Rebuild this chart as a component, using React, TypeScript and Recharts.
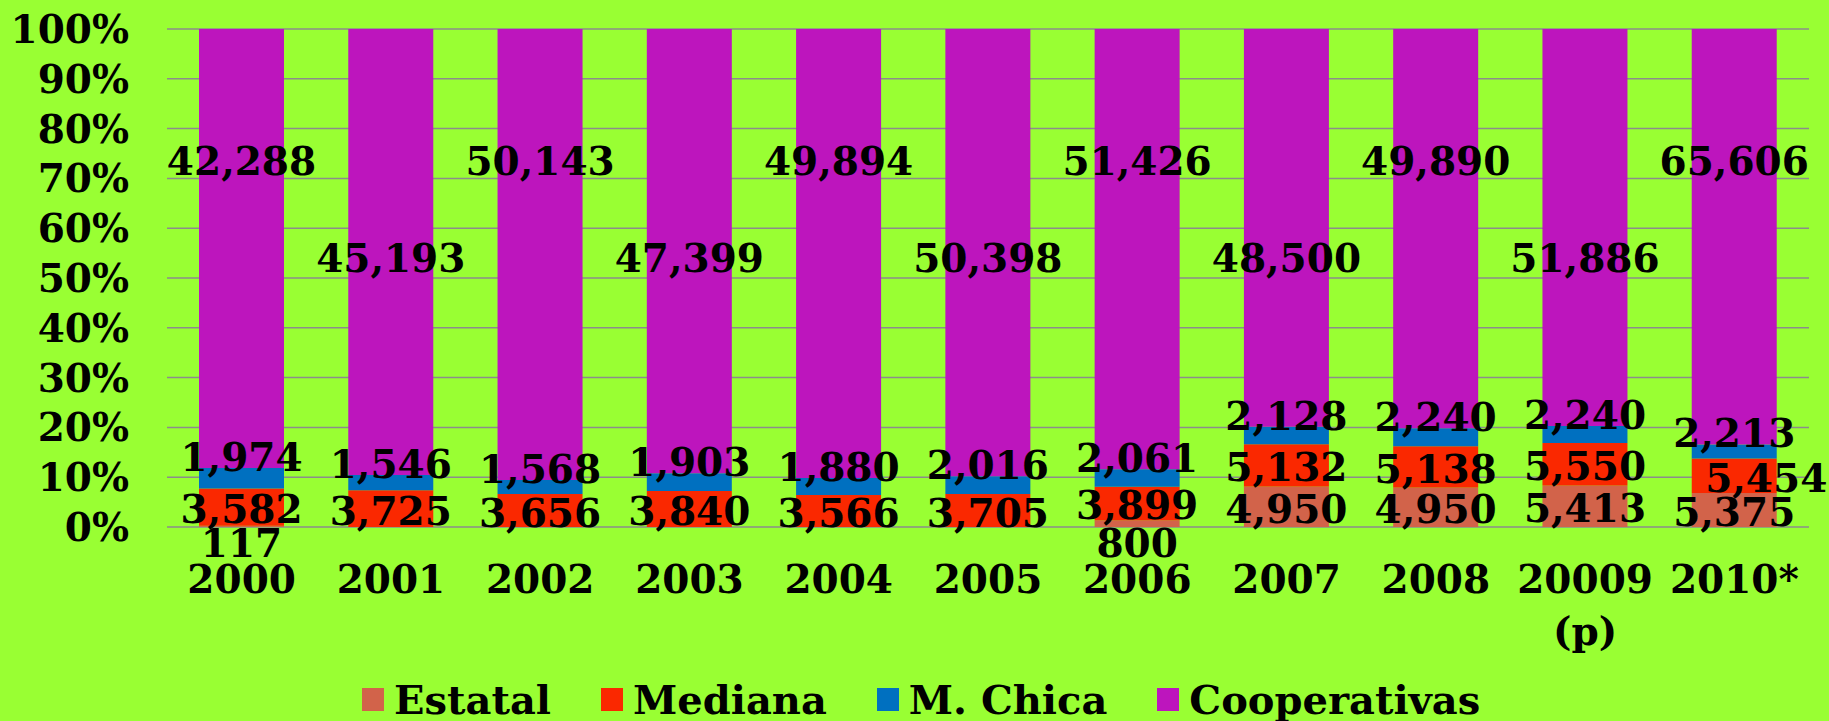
import React from 'react';
import { BarChart, Bar, XAxis, YAxis, CartesianGrid, Legend, LabelList } from 'recharts';

const YEARS = ['2000', '2001', '2002', '2003', '2004', '2005', '2006', '2007', '2008', '20009 (p)', '2010*'];
const ESTATAL = [117, 0, 0, 0, 0, 0, 800, 4950, 4950, 5413, 5375];
const MEDIANA = [3582, 3725, 3656, 3840, 3566, 3705, 3899, 5132, 5138, 5550, 5454];
const CHICA = [1974, 1546, 1568, 1903, 1880, 2016, 2061, 2128, 2240, 2240, 2213];
const COOP = [42288, 45193, 50143, 47399, 49894, 50398, 51426, 48500, 49890, 51886, 65606];
const PCT_TICKS = [0, 0.1, 0.2, 0.3, 0.4, 0.5, 0.6, 0.7, 0.8, 0.9, 1];

const SERIES = [
  { key: 'estatal', name: 'Estatal', color: '#D2634A' },
  { key: 'mediana', name: 'Mediana', color: '#FA2800' },
  { key: 'chica', name: 'M. Chica', color: '#0070C0' },
  { key: 'coop', name: 'Cooperativas', color: '#BD15BD' },
];

const data = YEARS.map((year, i) => ({
  year,
  estatal: ESTATAL[i],
  mediana: MEDIANA[i],
  chica: CHICA[i],
  coop: COOP[i],
}));

const FONT = '"DejaVu Serif", serif';
const txt = { fontFamily: FONT, fontWeight: 700, fontSize: 39, fill: '#000' };
const HALF_CAP = 14; // lining digits: baseline offset to centre them on a point

const fmt = (v: number) => Number(v).toLocaleString('en-US');
const box = (p: any) => p.viewBox ?? p;

// small segments get their label pushed below the bar
function estatalLabel(props: any) {
  const { x, y, width, height } = box(props);
  if (!props.value) return null;
  const cy = height < 20 ? y + height + 16 : y + height / 2 + 2;
  return (
    <text x={x + width / 2} y={cy + HALF_CAP} textAnchor="middle" {...txt}>
      {fmt(props.value)}
    </text>
  );
}

function medianaLabel(props: any) {
  const { x, y, width, height } = box(props);
  const dx = props.index === YEARS.length - 1 ? 32 : 0;
  return (
    <text x={x + width / 2 + dx} y={y + height / 2 + 2 + HALF_CAP} textAnchor="middle" {...txt}>
      {fmt(props.value)}
    </text>
  );
}

// sits right on top of the blue block
function chicaLabel(props: any) {
  const { x, y, width } = box(props);
  return (
    <text x={x + width / 2} y={y + 3} textAnchor="middle" {...txt}>
      {fmt(props.value)}
    </text>
  );
}

// labels alternate between a high and a low row
function coopLabel(props: any) {
  const { x, y, width, height } = box(props);
  const i = props.index;
  const total = ESTATAL[i] + MEDIANA[i] + CHICA[i] + COOP[i];
  const plotH = height / (COOP[i] / total);
  const cy = y + plotH * (i % 2 === 0 ? 0.265 : 0.46);
  return (
    <text x={x + width / 2} y={cy + HALF_CAP} textAnchor="middle" {...txt}>
      {fmt(props.value)}
    </text>
  );
}

const YTick = ({ x, y, payload }: any) => (
  <text x={x - 38} y={y + HALF_CAP} textAnchor="end" {...txt}>
    {Math.round(payload.value * 100)}%
  </text>
);

const XTick = ({ x, y, payload }: any) => {
  const lines = String(payload.value).split(' ');
  return (
    <text x={x} y={y + 66} textAnchor="middle" {...txt}>
      {lines.map((l, k) => (
        <tspan key={k} x={x} dy={k === 0 ? 0 : 52}>{l}</tspan>
      ))}
    </text>
  );
};

const renderLegend = () => (
  <div style={{ display: 'flex', alignItems: 'center', gap: 50, height: 46 }}>
    {SERIES.map((s) => (
      <div key={s.key} style={{ display: 'flex', alignItems: 'center' }}>
        <span style={{ width: 22, height: 23, background: s.color, marginRight: 10, display: 'inline-block' }} />
        <span style={{ fontFamily: FONT, fontWeight: 700, fontSize: 40, color: '#000', whiteSpace: 'nowrap' }}>{s.name}</span>
      </div>
    ))}
  </div>
);

export default function App() {
  return (
    <div style={{ width: 1829, height: 721, background: '#99FF33' }}>
      <style>{'body{margin:0}'}</style>
      <BarChart
        width={1829}
        height={721}
        data={data}
        stackOffset="expand"
        barSize={85}
        margin={{ top: 29, right: 20, left: 0, bottom: 44 }}
      >
        <CartesianGrid vertical={false} stroke="#8C8C8C" strokeWidth={1.5} />
        <XAxis
          dataKey="year"
          height={150}
          axisLine={false}
          tickLine={false}
          tickSize={0}
          tickMargin={0}
          interval={0}
          tick={<XTick />}
        />
        <YAxis
          type="number"
          domain={[0, 1]}
          ticks={PCT_TICKS}
          width={167}
          axisLine={false}
          tickLine={false}
          tickSize={0}
          tickMargin={0}
          tick={<YTick />}
        />
        <Legend
          verticalAlign="middle"
          align="center"
          layout="horizontal"
          wrapperStyle={{ top: 676, left: 362, width: 'auto' }}
          content={renderLegend}
        />
        <Bar dataKey="estatal" stackId="a" fill={SERIES[0].color} isAnimationActive={false}>
          <LabelList dataKey="estatal" content={estatalLabel} />
        </Bar>
        <Bar dataKey="mediana" stackId="a" fill={SERIES[1].color} isAnimationActive={false}>
          <LabelList dataKey="mediana" content={medianaLabel} />
        </Bar>
        <Bar dataKey="chica" stackId="a" fill={SERIES[2].color} isAnimationActive={false}>
          <LabelList dataKey="chica" content={chicaLabel} />
        </Bar>
        <Bar dataKey="coop" stackId="a" fill={SERIES[3].color} isAnimationActive={false}>
          <LabelList dataKey="coop" content={coopLabel} />
        </Bar>
      </BarChart>
    </div>
  );
}
